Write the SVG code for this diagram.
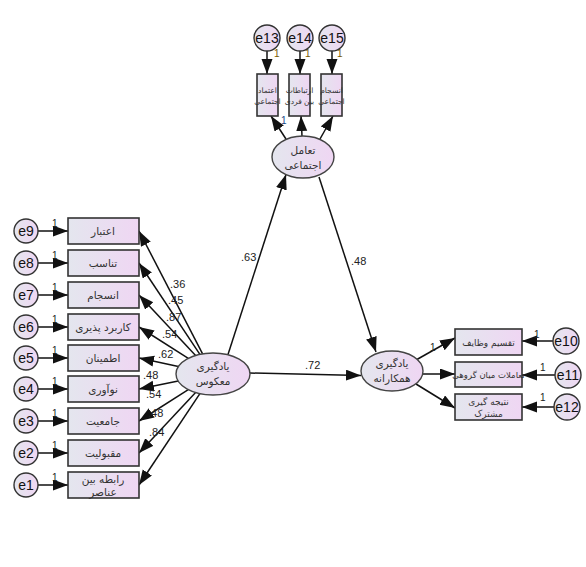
<svg xmlns="http://www.w3.org/2000/svg" width="586" height="567" viewBox="0 0 586 567">
<defs>
<linearGradient id="g" x1="0" y1="0" x2="1" y2="0">
<stop offset="0" stop-color="#e4e6ee"/>
<stop offset="1" stop-color="#efd6f3"/>
</linearGradient>
<marker id="a" markerUnits="userSpaceOnUse" markerWidth="16" markerHeight="12" refX="15" refY="5.5" orient="auto">
<path d="M0,0 L15,5.5 L0,11 z" fill="#111"/>
</marker>
<style>
.b{fill:url(#g);stroke:#333;stroke-width:1.6}
.c{fill:url(#g);stroke:#333;stroke-width:1.4}
.el{fill:url(#g);stroke:#444;stroke-width:1.4}
.t{font-family:"DejaVu Sans",sans-serif;font-size:10.5px;fill:#333;text-anchor:middle}
.ts{font-family:"DejaVu Sans",sans-serif;font-size:7.5px;fill:#333;text-anchor:middle}
.e{font-family:"Liberation Sans",Arial,sans-serif;font-size:14px;fill:#111;text-anchor:middle}
.n{font-family:"Liberation Sans",Arial,sans-serif;font-size:11px;fill:#222}
.one{font-family:"Liberation Sans",Arial,sans-serif;font-size:10px;fill:#222}
.l{stroke:#111;stroke-width:1.5;fill:none;marker-end:url(#a)}
</style>
</defs>
<rect width="586" height="567" fill="#fff"/>

<g id="connectors">
<line class="l" x1="38" y1="231" x2="68" y2="231"/>
<line class="l" x1="38" y1="263" x2="68" y2="263"/>
<line class="l" x1="38" y1="295" x2="68" y2="295"/>
<line class="l" x1="38" y1="327" x2="68" y2="327"/>
<line class="l" x1="38" y1="358" x2="68" y2="358"/>
<line class="l" x1="38" y1="389" x2="68" y2="389"/>
<line class="l" x1="38" y1="421" x2="68" y2="421"/>
<line class="l" x1="38" y1="453" x2="68" y2="453"/>
<line class="l" x1="38" y1="485" x2="68" y2="485"/>
<line class="l" x1="202.6" y1="353.8" x2="139" y2="231"/>
<line class="l" x1="199.9" y1="354.4" x2="139" y2="263"/>
<line class="l" x1="195.6" y1="355.5" x2="139" y2="295"/>
<line class="l" x1="188.3" y1="358.3" x2="139" y2="327"/>
<line class="l" x1="178.4" y1="366.5" x2="139" y2="358"/>
<line class="l" x1="178.2" y1="381.1" x2="139" y2="389"/>
<line class="l" x1="188.3" y1="389.7" x2="139" y2="421"/>
<line class="l" x1="195.6" y1="392.5" x2="139" y2="453"/>
<line class="l" x1="199.9" y1="393.6" x2="139" y2="485"/>
<line class="l" x1="228" y1="354.6" x2="286" y2="174.5"/>
<line class="l" x1="319" y1="177" x2="376" y2="352"/>
<line class="l" x1="250" y1="373" x2="361" y2="375.5"/>
<line class="l" x1="267" y1="51" x2="267" y2="74"/>
<line class="l" x1="300" y1="51" x2="300" y2="74"/>
<line class="l" x1="332" y1="51" x2="332" y2="74"/>
<line class="l" x1="286" y1="139" x2="271" y2="116"/>
<line class="l" x1="302" y1="136" x2="301" y2="116"/>
<line class="l" x1="320" y1="139" x2="333" y2="116"/>
<line class="l" x1="416" y1="360" x2="455" y2="338"/>
<line class="l" x1="423" y1="374" x2="455" y2="374"/>
<line class="l" x1="416" y1="384" x2="455" y2="408"/>
<line class="l" x1="553" y1="341" x2="522" y2="341"/>
<line class="l" x1="555" y1="375" x2="522" y2="375"/>
<line class="l" x1="554" y1="407" x2="522" y2="407"/>
</g>

<g id="labels">
<text class="one" x="52" y="227">1</text>
<text class="one" x="52" y="259">1</text>
<text class="one" x="52" y="291">1</text>
<text class="one" x="52" y="323">1</text>
<text class="one" x="52" y="354">1</text>
<text class="one" x="52" y="385">1</text>
<text class="one" x="52" y="417">1</text>
<text class="one" x="52" y="449">1</text>
<text class="one" x="52" y="481">1</text>
<text class="n" x="170" y="288">.36</text>
<text class="n" x="168" y="304">.45</text>
<text class="n" x="166" y="321">.87</text>
<text class="n" x="162" y="338">.54</text>
<text class="n" x="158" y="358">.62</text>
<text class="n" x="143" y="379">.48</text>
<text class="n" x="146" y="398">.54</text>
<text class="n" x="148" y="417">.48</text>
<text class="n" x="149" y="436">.84</text>
<text class="n" x="241" y="261">.63</text>
<text class="n" x="351" y="265">.48</text>
<text class="n" x="305" y="369">.72</text>
<text class="one" x="274" y="57" style="fill:#7a5c00">1</text>
<text class="one" x="305" y="57" style="fill:#7a5c00">1</text>
<text class="one" x="337" y="57" style="fill:#7a5c00">1</text>
<text class="one" x="281" y="124" style="fill:#1a4a8a">1</text>
<text class="one" x="430" y="351">1</text>
<text class="one" x="534" y="338">1</text>
<text class="one" x="540" y="371">1</text>
<text class="one" x="540" y="401">1</text>
</g>

<g id="e9"><circle class="c" cx="26" cy="231" r="12"/><text class="e" x="26" y="236">e9</text></g>
<g id="e8"><circle class="c" cx="26" cy="263" r="12"/><text class="e" x="26" y="268">e8</text></g>
<g id="e7"><circle class="c" cx="26" cy="295" r="12"/><text class="e" x="26" y="300">e7</text></g>
<g id="e6"><circle class="c" cx="26" cy="327" r="12"/><text class="e" x="26" y="332">e6</text></g>
<g id="e5"><circle class="c" cx="26" cy="358" r="12"/><text class="e" x="26" y="363">e5</text></g>
<g id="e4"><circle class="c" cx="26" cy="389" r="12"/><text class="e" x="26" y="394">e4</text></g>
<g id="e3"><circle class="c" cx="26" cy="421" r="12"/><text class="e" x="26" y="426">e3</text></g>
<g id="e2"><circle class="c" cx="26" cy="453" r="12"/><text class="e" x="26" y="458">e2</text></g>
<g id="e1"><circle class="c" cx="26" cy="485" r="12"/><text class="e" x="26" y="490">e1</text></g>

<g id="v9"><rect class="b" x="68" y="218" width="71" height="26"/><text class="t" x="103" y="235">اعتبار</text></g>
<g id="v8"><rect class="b" x="68" y="250" width="71" height="26"/><text class="t" x="103" y="267">تناسب</text></g>
<g id="v7"><rect class="b" x="68" y="282" width="71" height="26"/><text class="t" x="103" y="299">انسجام</text></g>
<g id="v6"><rect class="b" x="68" y="314" width="71" height="26"/><text class="t" x="103" y="331">کاربرد پذیری</text></g>
<g id="v5"><rect class="b" x="68" y="345" width="71" height="26"/><text class="t" x="103" y="362">اطمینان</text></g>
<g id="v4"><rect class="b" x="68" y="376" width="71" height="26"/><text class="t" x="103" y="393">نوآوری</text></g>
<g id="v3"><rect class="b" x="68" y="408" width="71" height="26"/><text class="t" x="103" y="425">جامعیت</text></g>
<g id="v2"><rect class="b" x="68" y="440" width="71" height="26"/><text class="t" x="103" y="457">مقبولیت</text></g>
<g id="v1"><rect class="b" x="68" y="472" width="71" height="26"/><text class="t" x="103" y="483">رابطه بین</text><text class="t" x="103" y="496">عناصر</text></g>

<g id="reverse"><ellipse class="el" cx="213" cy="374" rx="37" ry="21"/><text class="t" x="213" y="370">یادگیری</text><text class="t" x="213" y="385">معکوس</text></g>
<g id="social"><ellipse class="el" cx="303" cy="157" rx="31" ry="21"/><text class="t" x="303" y="154">تعامل</text><text class="t" x="303" y="169">اجتماعی</text></g>
<g id="coop"><ellipse class="el" cx="392" cy="371" rx="31" ry="20"/><text class="t" x="392" y="367">یادگیری</text><text class="t" x="392" y="382">همکارانه</text></g>

<g id="e13"><circle class="c" cx="267" cy="38" r="13"/><text class="e" x="267" y="43">e13</text></g>
<g id="e14"><circle class="c" cx="300" cy="38" r="13"/><text class="e" x="300" y="43">e14</text></g>
<g id="e15"><circle class="c" cx="332" cy="38" r="13"/><text class="e" x="332" y="43">e15</text></g>
<g id="v13"><rect class="b" x="257" y="74" width="21" height="42"/><text class="ts" x="267.5" y="93">اعتماد</text><text class="ts" x="267.5" y="104">اجتماعی</text></g>
<g id="v14"><rect class="b" x="289" y="74" width="21" height="42"/><text class="ts" x="299.5" y="93">ارتباطات</text><text class="ts" x="299.5" y="104">بین فردی</text></g>
<g id="v15"><rect class="b" x="321" y="74" width="21" height="42"/><text class="ts" x="331.5" y="93">انسجام</text><text class="ts" x="331.5" y="104">اجتماعی</text></g>

<g id="v10"><rect class="b" x="455" y="329" width="67" height="26"/><text class="t" x="488.5" y="346" style="font-size:9px">تقسیم وظایف</text></g>
<g id="v11"><rect class="b" x="455" y="362" width="67" height="25"/><text class="t" x="488.5" y="378" style="font-size:8.5px">تعاملات میان گروهی</text></g>
<g id="v12"><rect class="b" x="455" y="394" width="67" height="26"/><text class="t" x="488.5" y="405" style="font-size:9px">نتیجه گیری</text><text class="t" x="488.5" y="417" style="font-size:9px">مشترک</text></g>
<g id="e10"><circle class="c" cx="566" cy="341" r="13"/><text class="e" x="566" y="346">e10</text></g>
<g id="e11"><circle class="c" cx="568" cy="375" r="13"/><text class="e" x="568" y="380">e11</text></g>
<g id="e12"><circle class="c" cx="567" cy="407" r="13"/><text class="e" x="567" y="412">e12</text></g>
</svg>
